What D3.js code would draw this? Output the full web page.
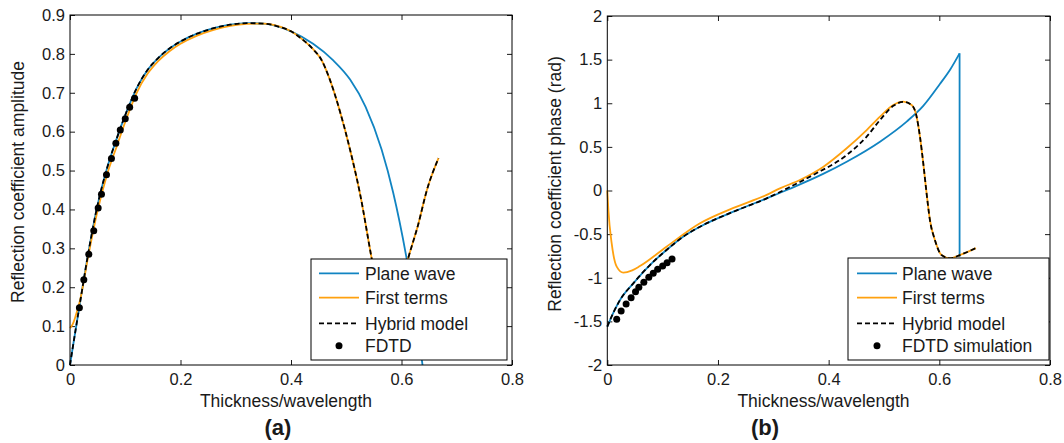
<!DOCTYPE html>
<html><head><meta charset="utf-8">
<script src="https://cdn.jsdelivr.net/npm/d3@7"></script>
<style>
body{margin:0;background:#fff}
svg{display:block}
text{font-family:"Liberation Sans",Arial,sans-serif;fill:#1a1a1a}
</style>
</head><body>
<svg id="c" width="1064" height="443"></svg>
<script>
// ---------- tick labels ----------
const xTickValues = [0, 0.2, 0.4, 0.6, 0.8];
const ampTickValues = [0, 0.1, 0.2, 0.3, 0.4, 0.5, 0.6, 0.7, 0.8, 0.9];
const phaseTickValues = [-2, -1.5, -1, -0.5, 0, 0.5, 1, 1.5, 2];

// ---------- (a) amplitude ----------
const ampPlaneX = [0, 0.005, 0.018, 0.033, 0.048, 0.066, 0.0845, 0.1026, 0.1207, 0.14, 0.16, 0.18, 0.20, 0.23, 0.26, 0.29, 0.32, 0.35, 0.38, 0.40, 0.44, 0.476, 0.507, 0.535, 0.564, 0.585, 0.608, 0.625, 0.638];
const ampPlaneY = [0, 0.045, 0.159, 0.287, 0.399, 0.501, 0.582, 0.652, 0.712, 0.758, 0.79, 0.814, 0.832, 0.852, 0.866, 0.875, 0.879, 0.878, 0.869, 0.858, 0.826, 0.784, 0.734, 0.664, 0.554, 0.443, 0.284, 0.14, 0];

const ampFirstX = [0, 0.005, 0.01, 0.018, 0.033, 0.048, 0.066, 0.0845, 0.1026, 0.1207, 0.14, 0.16, 0.18, 0.20, 0.23, 0.26, 0.29, 0.32, 0.35, 0.38, 0.40, 0.42, 0.44, 0.455, 0.47, 0.489, 0.507, 0.525, 0.546, 0.56, 0.572, 0.585, 0.612, 0.63, 0.646, 0.667];
const ampFirstY = [0.095, 0.105, 0.125, 0.165, 0.28, 0.385, 0.485, 0.562, 0.635, 0.70, 0.748, 0.782, 0.807, 0.826, 0.847, 0.862, 0.872, 0.877, 0.878, 0.870, 0.858, 0.838, 0.812, 0.785, 0.735, 0.65, 0.553, 0.44, 0.274, 0.17, 0.10, 0.12, 0.274, 0.36, 0.45, 0.532];

const ampHybridX = [0, 0.005, 0.018, 0.033, 0.048, 0.066, 0.0845, 0.1026, 0.1207, 0.14, 0.16, 0.18, 0.20, 0.23, 0.26, 0.29, 0.32, 0.35, 0.38, 0.40, 0.42, 0.44, 0.455, 0.47, 0.489, 0.507, 0.525, 0.546, 0.56, 0.572, 0.585, 0.612, 0.63, 0.646, 0.667];
const ampHybridY = [0, 0.045, 0.159, 0.287, 0.399, 0.501, 0.582, 0.652, 0.712, 0.758, 0.79, 0.814, 0.832, 0.852, 0.866, 0.875, 0.879, 0.878, 0.869, 0.858, 0.838, 0.812, 0.785, 0.735, 0.65, 0.553, 0.44, 0.274, 0.17, 0.10, 0.12, 0.274, 0.36, 0.45, 0.532];

const fdtdX = [0.017, 0.025, 0.034, 0.043, 0.051, 0.057, 0.066, 0.075, 0.083, 0.091, 0.100, 0.108, 0.117];
const ampFdtdY = [0.147, 0.219, 0.285, 0.345, 0.404, 0.439, 0.489, 0.531, 0.570, 0.604, 0.633, 0.663, 0.686];

// ---------- (b) phase ----------
const phasePlaneX = [0, 0.011, 0.023, 0.047, 0.077, 0.107, 0.137, 0.1675, 0.228, 0.288, 0.33, 0.39, 0.4326, 0.4928, 0.541, 0.571, 0.601, 0.62, 0.6366];
const phasePlaneY = [-1.56, -1.40, -1.255, -1.064, -0.854, -0.682, -0.53, -0.415, -0.243, -0.09, 0.02, 0.19, 0.33, 0.56, 0.79, 0.97, 1.22, 1.39, 1.572];
const phasePlaneJumpY = -0.76;

const phaseFirstX = [0, 0.002, 0.008, 0.017, 0.029, 0.045, 0.059, 0.107, 0.1675, 0.228, 0.288, 0.312, 0.348, 0.39, 0.4326, 0.4687, 0.4928, 0.5168, 0.535, 0.55, 0.559, 0.565, 0.571, 0.577, 0.583, 0.592, 0.604, 0.619, 0.637, 0.666];
const phaseFirstY = [0, -0.23, -0.61, -0.873, -0.942, -0.915, -0.866, -0.644, -0.376, -0.2, -0.05, 0.025, 0.12, 0.27, 0.484, 0.693, 0.846, 0.98, 1.018, 0.98, 0.846, 0.617, 0.312, -0.032, -0.338, -0.567, -0.74, -0.777, -0.74, -0.66];

const phaseHybridX = [0, 0.011, 0.023, 0.047, 0.077, 0.107, 0.137, 0.1675, 0.228, 0.288, 0.33, 0.372, 0.4326, 0.4687, 0.4928, 0.5168, 0.535, 0.55, 0.559, 0.565, 0.571, 0.577, 0.583, 0.592, 0.604, 0.619, 0.637, 0.666];
const phaseHybridY = [-1.56, -1.40, -1.255, -1.064, -0.854, -0.682, -0.53, -0.415, -0.243, -0.09, 0.04, 0.178, 0.407, 0.617, 0.808, 0.97, 1.015, 0.98, 0.846, 0.617, 0.312, -0.032, -0.338, -0.567, -0.74, -0.777, -0.74, -0.66];

const phaseFdtdY = [-1.476, -1.381, -1.301, -1.229, -1.160, -1.110, -1.052, -0.995, -0.949, -0.903, -0.865, -0.828, -0.785];

const legendLabelsA = ["Plane wave", "First terms", "Hybrid model", "FDTD"];
const legendLabelsB = ["Plane wave", "First terms", "Hybrid model", "FDTD simulation"];

// ---------- drawing ----------
const BLUE = "#1184c2", ORANGE = "#ffa10f", INK = "#1a1a1a";
const svg = d3.select("#c");

function drawPanel(p) {
  const x = d3.scaleLinear().domain([0, 0.8]).range([p.left, p.right]);
  const y = d3.scaleLinear().domain(p.yDomain).range([p.bottom, p.top]);
  const g = svg.append("g");

  const styleAxis = sel => {
    sel.attr("font-size", null).attr("font-family", null).attr("color", INK);
    sel.selectAll(".domain").remove();
    sel.selectAll(".tick line").attr("stroke-width", 1);
    sel.selectAll(".tick text").attr("font-size", "16.5px");
  };
  g.append("g").attr("transform", `translate(0,${p.bottom})`)
    .call(d3.axisBottom(x).tickValues(xTickValues).tickFormat(String).tickSizeInner(-5).tickSizeOuter(0).tickPadding(8)).call(styleAxis);
  g.append("g").attr("transform", `translate(0,${p.top})`)
    .call(d3.axisTop(x).tickValues(xTickValues).tickFormat(() => "").tickSizeInner(-5).tickSizeOuter(0)).call(styleAxis);
  g.append("g").attr("transform", `translate(${p.left},0)`)
    .call(d3.axisLeft(y).tickValues(p.yTicks).tickFormat(String).tickSizeInner(-5).tickSizeOuter(0).tickPadding(5)).call(styleAxis);
  g.append("g").attr("transform", `translate(${p.right},0)`)
    .call(d3.axisRight(y).tickValues(p.yTicks).tickFormat(() => "").tickSizeInner(-5).tickSizeOuter(0)).call(styleAxis);

  const line = d3.line().x(d => x(d[0])).y(d => y(d[1])).curve(d3.curveMonotoneX);
  const lin = d3.line().x(d => x(d[0])).y(d => y(d[1]));

  const plane = d3.zip(p.planeX, p.planeY);
  g.append("path").attr("d", line(plane)).attr("fill", "none").attr("stroke", BLUE).attr("stroke-width", 1.8);
  if (p.jumpY !== undefined) {
    const last = plane[plane.length - 1];
    g.append("path").attr("d", lin([last, [last[0], p.jumpY]])).attr("fill", "none").attr("stroke", BLUE).attr("stroke-width", 1.8);
  }
  g.append("path").attr("d", line(d3.zip(p.firstX, p.firstY))).attr("fill", "none").attr("stroke", ORANGE).attr("stroke-width", 1.8);
  g.append("path").attr("d", line(d3.zip(p.hybridX, p.hybridY))).attr("fill", "none").attr("stroke", "#000").attr("stroke-width", 1.8).attr("stroke-dasharray", "5,3");
  g.selectAll("circle.fdtd").data(d3.zip(fdtdX, p.fdtdY)).join("circle").attr("class", "fdtd")
    .attr("cx", d => x(d[0])).attr("cy", d => y(d[1])).attr("r", 3.5).attr("fill", "#000");

  g.append("rect").attr("x", p.left).attr("y", p.top).attr("width", p.right - p.left).attr("height", p.bottom - p.top)
    .attr("fill", "none").attr("stroke", "#000").attr("stroke-width", 1);

  // axis titles
  g.append("text").attr("x", p.xTitleX).attr("y", 407).attr("text-anchor", "middle").attr("font-size", "17.5px").text("Thickness/wavelength");
  g.append("text").attr("transform", `translate(${p.yTitleX},${p.yTitleY}) rotate(-90)`).attr("text-anchor", "middle").attr("font-size", "17.5px").text(p.yTitle);
  g.append("text").attr("x", p.capX).attr("y", 435).attr("text-anchor", "middle")
    .attr("font-family", "'DejaVu Sans',sans-serif").attr("font-weight", "bold").attr("font-size", "22px").text(p.caption);

  // legend
  const L = p.legend;
  const lg = g.append("g");
  lg.append("rect").attr("x", L.x0).attr("y", L.y0).attr("width", L.x1 - L.x0).attr("height", L.y1 - L.y0)
    .attr("fill", "#fff").attr("stroke", "#000").attr("stroke-width", 1);
  const rows = [273.3, 297.7, 323.3, 345.7];
  const styles = [{c: BLUE}, {c: ORANGE}, {c: "#000", dash: "5,3"}, {dot: true}];
  p.legendLabels.forEach((lab, i) => {
    const s = styles[i];
    if (s.dot) {
      lg.append("circle").attr("cx", (L.lx0 + L.lx1) / 2).attr("cy", rows[i]).attr("r", 3.5).attr("fill", "#000");
    } else {
      lg.append("line").attr("x1", L.lx0).attr("x2", L.lx1).attr("y1", rows[i]).attr("y2", rows[i])
        .attr("stroke", s.c).attr("stroke-width", 1.8).attr("stroke-dasharray", s.dash || null);
    }
    lg.append("text").attr("x", L.tx).attr("y", rows[i] + 6.6).attr("font-size", "17.5px").text(lab);
  });
}

drawPanel({
  left: 70, right: 512, top: 15, bottom: 365, yDomain: [0, 0.9], yTicks: ampTickValues,
  planeX: ampPlaneX, planeY: ampPlaneY, firstX: ampFirstX, firstY: ampFirstY,
  hybridX: ampHybridX, hybridY: ampHybridY, fdtdY: ampFdtdY,
  xTitleX: 286, yTitleX: 24, yTitleY: 182, yTitle: "Reflection coefficient amplitude",
  capX: 278, caption: "(a)",
  legend: {x0: 311, x1: 507, y0: 259, y1: 360, lx0: 319, lx1: 359, tx: 365},
  legendLabels: legendLabelsA
});
drawPanel({
  left: 607.3, right: 1050, top: 16, bottom: 365, yDomain: [-2, 2], yTicks: phaseTickValues,
  planeX: phasePlaneX, planeY: phasePlaneY, jumpY: phasePlaneJumpY, firstX: phaseFirstX, firstY: phaseFirstY,
  hybridX: phaseHybridX, hybridY: phaseHybridY, fdtdY: phaseFdtdY,
  xTitleX: 823.5, yTitleX: 561, yTitleY: 184, yTitle: "Reflection coefficient phase (rad)",
  capX: 765, caption: "(b)",
  legend: {x0: 848, x1: 1049, y0: 258, y1: 360, lx0: 857, lx1: 897, tx: 902},
  legendLabels: legendLabelsB
});
</script>
</body></html>
